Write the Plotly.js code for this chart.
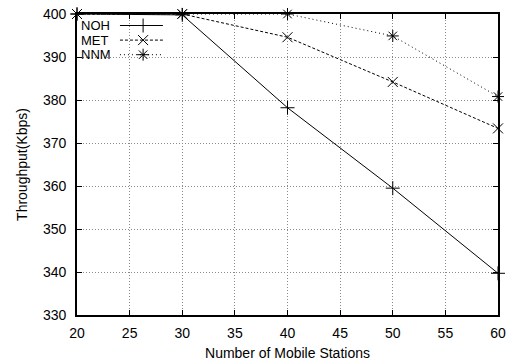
<!DOCTYPE html>
<html><head><meta charset="utf-8">
<script src="https://cdn.plot.ly/plotly-3.0.1.min.js"></script>
<style>html,body{margin:0;padding:0;background:#fff}</style>
</head><body>
<div id="chart" style="width:508px;height:362px"></div>
<script>
const stations = [20, 30, 40, 50, 60];
const noh = [400, 399.8, 378.2, 359.5, 339.7];
const met = [400, 400, 394.6, 384.2, 373.4];
const nnm = [400, 400, 400, 394.9, 380.8];
const seriesNames = ['NOH', 'MET', 'NNM'];
const xTicks = [20, 25, 30, 35, 40, 45, 50, 55, 60];
const yTicks = [330, 340, 350, 360, 370, 380, 390, 400];

const dashes = ['solid', '3px,2px', '1px,3px'];
const symbols = ['cross-thin-open', 'x-thin-open', 'asterisk-open'];
const values = [noh, met, nnm];
const FONT = 'Liberation Sans, Arial, sans-serif';

const traces = values.map((v, i) => ({
  x: stations, y: v, name: seriesNames[i], type: 'scatter', mode: 'lines+markers',
  line: {color: '#000', width: 1, dash: dashes[i]},
  marker: {symbol: symbols[i], size: 10, color: '#000', line: {color: '#000', width: 1}},
  showlegend: false, cliponaxis: false
}));

// gnuplot-style key: text then sample line with marker (on a hidden 0..1 overlay axis)
const keyY = [0.9618, 0.9133, 0.8648];
const annotations = [];
seriesNames.forEach((n, i) => {
  traces.push({
    x: [0.102, 0.204], y: [keyY[i], keyY[i]], xaxis: 'x2', yaxis: 'y2', type: 'scatter', mode: 'lines',
    line: {color: '#000', width: 1, dash: dashes[i]}, showlegend: false, hoverinfo: 'skip'
  });
  traces.push({
    x: [0.157], y: [keyY[i]], xaxis: 'x2', yaxis: 'y2', type: 'scatter', mode: 'markers',
    marker: {symbol: symbols[i], size: 10, color: '#000', line: {color: '#000', width: 1}},
    showlegend: false, hoverinfo: 'skip'
  });
  annotations.push({
    text: n, xref: 'x2', yref: 'y2', x: 0.006, y: keyY[i], xanchor: 'left', yanchor: 'middle',
    showarrow: false, borderpad: 0,
    font: {family: FONT, size: 13, color: '#000'}
  });
});

const axFont = {family: FONT, size: 14, color: '#000'};
const gridCommon = {
  ticks: 'inside', ticklen: 5, tickcolor: '#000', tickwidth: 1, mirror: 'ticks',
  showline: true, linecolor: '#000', linewidth: 1.8,
  showgrid: true, gridcolor: '#8a8a8a', griddash: '1px,2px', gridwidth: 1,
  zeroline: false, tickfont: axFont
};
const layout = {
  width: 508, height: 362,
  margin: {l: 77, r: 10, t: 14, b: 47},
  paper_bgcolor: '#fff', plot_bgcolor: '#fff',
  showlegend: false,
  font: axFont,
  xaxis: Object.assign({
    range: [20, 60], tickvals: xTicks, ticktext: xTicks.map(String), ticklabelstandoff: 4,
    title: {text: 'Number of Mobile Stations', font: axFont, standoff: 9}
  }, gridCommon),
  yaxis: Object.assign({
    range: [330, 400], tickvals: yTicks, ticktext: yTicks.map(String), ticklabelstandoff: 6,
    title: {text: 'Throughput(Kbps)', font: axFont, standoff: 12}
  }, gridCommon),
  xaxis2: {overlaying: 'x', range: [0, 1], visible: false, fixedrange: true},
  yaxis2: {overlaying: 'y', range: [0, 1], visible: false, fixedrange: true},
  annotations: annotations
};
Plotly.newPlot('chart', traces, layout, {staticPlot: true, displayModeBar: false});
</script>
</body></html>
